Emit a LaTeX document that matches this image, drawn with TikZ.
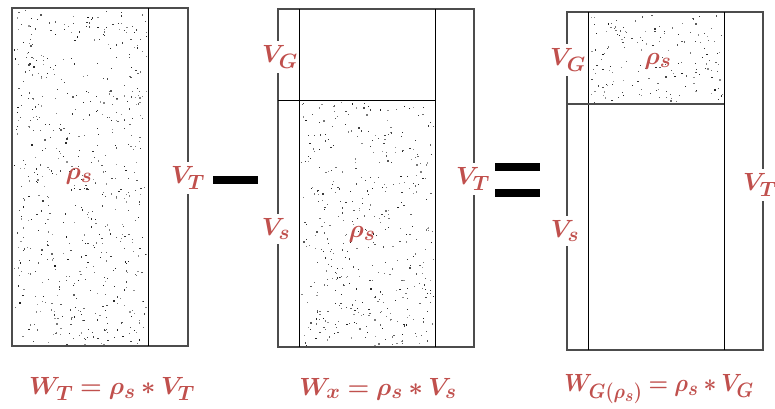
\documentclass[tikz,border=0pt]{standalone}
\usepackage{amsmath,bm,graphicx}
\definecolor{lbl}{HTML}{C0504D}
\newcommand\mystipple[5]{%
  \foreach \i in {1,...,#5}{%
    \pgfmathsetmacro\sx{#1+2+(#3-4)*rnd}%
    \pgfmathsetmacro\sy{#2+2+(#4-4)*rnd}%
    \pgfmathsetmacro\sg{40+50*rnd}%
    \fill[black!\sg] (\sx,\sy) rectangle ++(1.2,1.2);}}
\begin{document}
\begin{tikzpicture}[x=1pt,y=-1pt,
  outer/.style={draw=black!70,line width=1.2pt},
  inner/.style={draw=black,line width=0.8pt},
  lab/.style={text=lbl,font=\fontsize{24.88}{30}\selectfont,inner sep=1pt},
  flab/.style={text=lbl,font=\fontsize{24.88}{30}\selectfont,inner sep=1pt},
  cut/.style={lab,fill=white,inner xsep=1pt,inner ysep=5pt},
  bar/.style={fill=black,draw=none}]
\useasboundingbox (0,0) rectangle (775,408);
\pgfmathsetseed{17}
% ---------- panel 1 ----------
\mystipple{12}{8}{136}{338}{600}
\draw[outer] (12,8) rectangle (188,346);
\draw[inner] (148,8) -- (148,346);
\node[lab] (rho1) at (79,176) {$\bm{\rho_s}$};
\node[cut] (vt1) at (188,178) {$\bm{V_T}$};
% minus
\fill[bar] (213,176) rectangle (258,184);
% ---------- panel 2 ----------
\mystipple{299}{100}{136}{247}{440}
\draw[outer] (278,9) rectangle (474,347);
\draw[inner] (299,9) -- (299,347);
\draw[inner] (435,9) -- (435,347);
\draw[inner] (278,100) -- (435,100);
\node[cut] (vg2) at (280,57) {$\bm{V_G}$};
\node[cut] (vs2) at (276,229) {$\bm{V_s}$};
\node[cut] (vt2) at (473,179) {$\bm{V_T}$};
\node[lab] (rho2) at (362,234) {$\bm{\rho_s}$};
% equals
\fill[bar] (495,163) rectangle (540,171);
\fill[bar] (495,189) rectangle (540,197);
% ---------- panel 3 ----------
\mystipple{588}{12}{136}{92}{165}
\draw[outer] (567,12) rectangle (763,350);
\draw[inner] (588,12) -- (588,350);
\draw[inner] (724,12) -- (724,350);
\draw[outer] (567,104) -- (724,104);
\node[cut] (vg3) at (568,60) {$\bm{V_G}$};
\node[lab] (rho3) at (658,61) {$\bm{\rho_s}$};
\node[cut] (vs3) at (565,231) {$\bm{V_s}$};
\node[cut] (vt3) at (760,185) {$\bm{V_T}$};
% ---------- formulas ----------
\node[flab] (f1) at (112,389) {$\bm{W_T = \rho_s \ast V_T}$};
\node[flab] (f2) at (378,389) {$\bm{W_x = \rho_s \ast V_s}$};
\node[flab] (f3) at (659,389) {\scalebox{0.9}[1]{$\bm{W_{G(\rho_s)} = \rho_s \ast V_G}$}};
\end{tikzpicture}
\end{document}
